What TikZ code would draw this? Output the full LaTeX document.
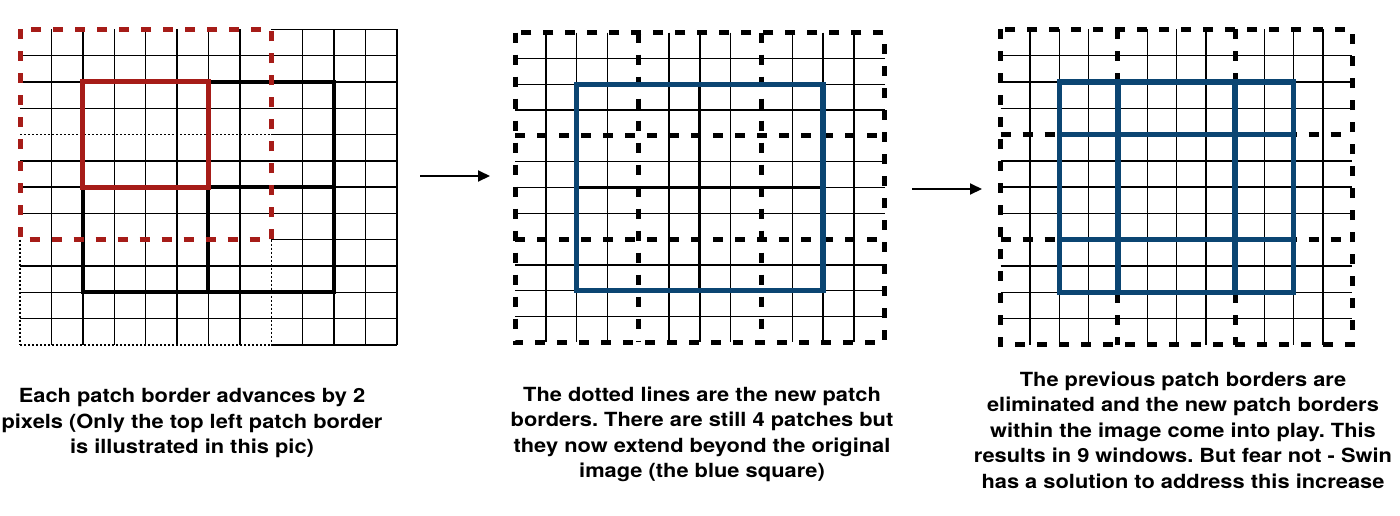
\documentclass[tikz,border=0pt]{standalone}
\usepackage{fontspec}
\setmainfont{TeX Gyre Heros}
\newfontfamily\notefont[FakeStretch=1.12]{TeX Gyre Heros}
\usetikzlibrary{arrows.meta, positioning}
\definecolor{patchred}{RGB}{166,28,24}
\definecolor{imageblue}{RGB}{11,69,114}
\frenchspacing
\tikzset{
  thinline/.style={line width=1.4pt},
  dotline/.style={line width=1.3pt, dash pattern=on 2pt off 2pt},
  patchdash/.style={line width=5pt, dash pattern=on 10pt off 12pt},
  shiftarrow/.style={line width=2pt, -{Triangle[length=12pt,width=11pt]}},
  caption/.style={font=\notefont\bfseries\fontsize{19.5}{25.5}\selectfont, align=center, anchor=north, inner sep=0pt},
}

\begin{document}
\begin{tikzpicture}[x=1pt, y=-1pt]
    \useasboundingbox (0,0) rectangle (1400,515);

    \begin{scope}[shift={(20,29.3)}, x=31.4pt, y=-26.3pt]
        \foreach \r in {1,2,3,5,6,7,9,10,11} \draw[thinline] (0,\r) -- (12,\r);
        \foreach \r in {0,4,8,12} \draw[thinline] (8,\r) -- (12,\r);
        \foreach \c in {1,2,3,4,5,6,7,9,10,11,12} \draw[thinline] (\c,0) -- (\c,12);
        \draw[dotline] (0,4) -- (8,4);
        \draw[dotline] (0,12) -- (8,12);
        \draw[dotline] (0,8) -- (0,12);
        \draw[dotline] (8,8) -- (8,12);
        \draw[line width=4pt] (2,2) rectangle (10,10) (6,2) -- (6,10) (2,6) -- (10,6);
        \draw[patchred, line width=5pt] (2,2) rectangle (6,6);
        \draw[patchred, patchdash] (0,0) rectangle (8,8);
    \end{scope}

    \begin{scope}[shift={(515,32.7)}, x=30.8pt, y=-25.8pt]
        \foreach \i in {1,2,3,5,6,7,9,10,11} {
            \draw[thinline] (0,\i) -- (12,\i);
            \draw[thinline] (\i,0) -- (\i,12);
        }
        \draw[patchdash] (0,0) rectangle (12,12) (4,0) -- (4,12) (8,0) -- (8,12) (0,4) -- (12,4) (0,8) -- (12,8);
        \draw[line width=3pt] (6,2) -- (6,10) (2,6) -- (10,6);
        \draw[imageblue, line width=5.5pt] (2,2) rectangle (10,10);
    \end{scope}

    \begin{scope}[shift={(1000.7,29.3)}, x=29.3pt, y=-26.3pt]
        \foreach \i in {1,2,3,5,6,7,9,10,11} {
            \draw[thinline] (0,\i) -- (12,\i);
            \draw[thinline] (\i,0) -- (\i,12);
        }
        \draw[patchdash] (0,0) rectangle (12,12) (4,0) -- (4,12) (8,0) -- (8,12) (0,4) -- (12,4) (0,8) -- (12,8);
        \draw[imageblue, line width=5.5pt] (2,2) rectangle (10,10) (4,2) -- (4,10) (8,2) -- (8,10) (2,4) -- (10,4) (2,8) -- (10,8);
    \end{scope}

    \coordinate (firststart) at (420,176);
    \coordinate (firstend) at (490,176);
    \coordinate (secondstart) at (912,189);
    \coordinate (secondend) at (982,189);
    \draw[shiftarrow] (firststart) -- (firstend);
    \draw[shiftarrow] (secondstart) -- (secondend);

    \node[caption] (leftnote) at (192,388.3) {Each patch border advances by 2\\pixels (Only the top left patch border\\is illustrated in this pic)};
    \node[caption] (midnote) at (702,386.7) {The dotted lines are the new patch\\borders. There are still 4 patches but\\they now extend beyond the original\\image (the blue square)};
    \node[caption] (rightnote) at (1183,371.7) {The previous patch borders are\\eliminated and the new patch borders\\within the image come into play. This\\results in 9 windows. But fear not - Swin\\has a solution to address this increase};
\end{tikzpicture}
\end{document}
